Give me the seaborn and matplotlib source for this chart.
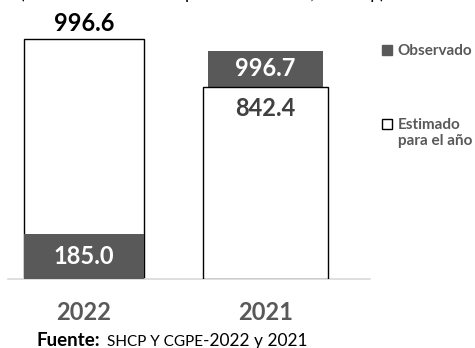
import matplotlib
matplotlib.use("Agg")
import matplotlib.pyplot as plt
from matplotlib.patches import Patch
import seaborn as sns
import pandas as pd

# ---- data ----
years = ["2022", "2021"]
estimado_altura = [996.6, 797.0]      # top of white (estimated) bar
observado_altura = [185.0, 947.0]     # top of grey (observed) bar
estimado_etiqueta = ["996.6", "842.4"]
observado_etiqueta = ["185.0", "996.7"]

W, H = 475, 348
sns.set_theme(style="white")
plt.rcParams["font.family"] = ["Lato", "DejaVu Sans"]

fig = plt.figure(figsize=(W / 100, H / 100), dpi=100)
ax = fig.add_axes([8 / W, 69 / H, 362 / W, 279 / H])

df = pd.DataFrame({"anio": years, "est": estimado_altura, "obs": observado_altura})
GREY = "#595959"

sns.barplot(data=df, x="anio", y="est", order=years, color="white", saturation=1,
            edgecolor="black", linewidth=1.0, ax=ax)
sns.barplot(data=df, x="anio", y="obs", order=years, color=GREY, saturation=1,
            linewidth=0, ax=ax)

est_patches = ax.patches[:2]
obs_patches = ax.patches[2:4]
est_w = [0.661, 0.689]
obs_w = [0.656, 0.634]
for i, p in enumerate(est_patches):
    c = p.get_x() + p.get_width() / 2
    p.set_width(est_w[i]); p.set_x(c - est_w[i] / 2)
for i, p in enumerate(obs_patches):
    c = p.get_x() + p.get_width() / 2
    p.set_width(obs_w[i]); p.set_x(c - obs_w[i] / 2)
# 2022: observed drawn over estimated; 2021: estimated drawn over observed
est_patches[0].set_zorder(2); obs_patches[0].set_zorder(3)
obs_patches[1].set_zorder(2); est_patches[1].set_zorder(3)

ax.set_xlim(-0.4187, 1.5758)
ax.set_ylim(0, 1158.5)

# labels
LBL = dict(fontsize=17, fontweight="bold", ha="center", va="center", zorder=5)
ax.annotate(estimado_etiqueta[0], (0, estimado_altura[0]), xytext=(0, 15),
            textcoords="offset pixels", color="black", **LBL)
ax.annotate(estimado_etiqueta[1], (1, estimado_altura[1]), xytext=(0, -21),
            textcoords="offset pixels", color="#404040", **LBL)
ax.text(0, observado_altura[0] / 2, observado_etiqueta[0], color="white", **LBL)
ax.text(1, (observado_altura[1] + estimado_altura[1]) / 2, observado_etiqueta[1],
        color="white", **LBL)

# axes styling
for s in ["left", "top", "right"]:
    ax.spines[s].set_visible(False)
ax.spines["bottom"].set_color("#d9d9d9")
ax.spines["bottom"].set_linewidth(1.2)
ax.set_yticks([])
ax.set_xlabel(""); ax.set_ylabel("")
ax.set_xticks([0, 1])
ax.set_xticklabels(years, fontsize=17, fontweight="bold", color=GREY)
ax.tick_params(axis="x", which="major", length=0, pad=16)
ax.set_xticks([0.424, 0.782, 1.5758], minor=True)
ax.tick_params(axis="x", which="minor", length=7.5, width=1.2, color="#d9d9d9",
               direction="out")

# legend
handles = [Patch(facecolor=GREY, edgecolor=GREY),
           Patch(facecolor="white", edgecolor="black", linewidth=1)]
leg = fig.legend(handles, ["Observado", "Estimado"],
                 loc="upper left", bbox_to_anchor=(382 / W, 1 - 44 / H),
                 frameon=False, labelcolor=GREY,
                 prop={"weight": "bold", "size": 11},
                 handlelength=0.65, handleheight=0.65, handletextpad=0.35,
                 labelspacing=3.95, borderaxespad=0, borderpad=0)
fig.text(398 / W, 1 - 141 / H, "para el año", fontsize=11, fontweight="bold",
         color=GREY, ha="left", va="center")

# cropped title at the very top (only its lowest part is visible, as in the reference)
fig.text(202 / W, 1 + 1 / H, "(Miles de millones de pesos corrientes, ene-sep)",
         ha="center", va="baseline", fontsize=12.5, color="black")

# source
fig.text(37 / W, 1 - 346 / H, "Fuente:", fontsize=13.5, fontweight="bold",
         color="black", ha="left", va="baseline")
fig.text(107 / W, 1 - 346 / H, "SHCP Y CGPE", fontsize=11, color="black",
         ha="left", va="baseline")
fig.text(203 / W, 1 - 346 / H, "-2022 y 2021", fontsize=12.5, color="black",
         ha="left", va="baseline")

fig.savefig("out.png", dpi=100)
